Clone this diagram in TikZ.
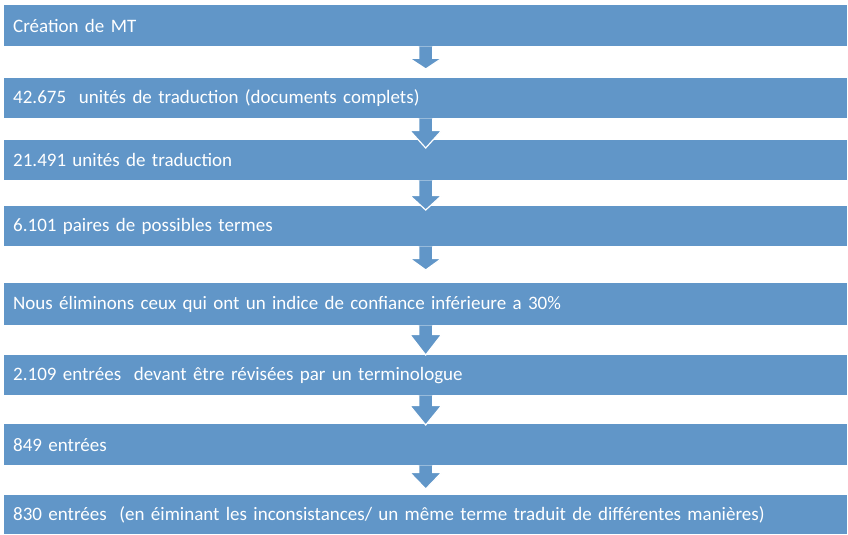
\documentclass[tikz,border=0pt]{standalone}
\usepackage{fontspec}
\setmainfont{Carlito}
\usetikzlibrary{calc}
\definecolor{boxblue}{RGB}{97,150,200}
\tikzset{
  stagebox/.style={fill=boxblue, draw=none, anchor=north west, minimum width=843pt,
    text width=825pt, align=left, inner xsep=9pt, inner ysep=0pt, text=white,
    font=\fontsize{19}{22}\selectfont},
  flowarr/.style={fill=boxblue, draw=white, line width=1.2pt, line join=miter}
}
% #1 source node, #2 target node, #3 head base below source, #4 tip offset from target north
\newcommand\flowarrow[4]{%
  \path[flowarr] ($(#1.south)+(-7,0)$) -- ($(#1.south)+(-7,#3)$) -- ++(-9,0)
    -- ($(#2.north)+(0,#4)$) -- ($(#1.south)+(16,#3)$) -- ++(-9,0)
    -- ($(#1.south)+(7,0)$);
}
\begin{document}
\begin{tikzpicture}[x=1pt,y=-1pt]
\useasboundingbox (0,0) rectangle (848,535);
\node[stagebox, minimum height=41pt] (b1) at (4,5) {Création de MT};
\node[stagebox, minimum height=40pt] (b2) at (4,78) {42.675\ \ unités de traduction (documents complets)};
\node[stagebox, minimum height=40pt] (b3) at (4,140) {21.491 unités de traduction};
\node[stagebox, minimum height=40pt] (b4) at (4,206) {6.101 paires de possibles termes};
\node[stagebox, minimum height=42pt] (b5) at (4,283) {Nous éliminons ceux qui ont un indice de confiance inférieure a 30\%};
\node[stagebox, minimum height=40pt] (b6) at (4,355) {2.109 entrées\ \ devant être révisées par un terminologue};
\node[stagebox, minimum height=41pt] (b7) at (4,424) {849 entrées};
\node[stagebox, minimum height=39pt] (b8) at (4,495) {830 entrées\ \ (en éiminant les inconsistances/ un même terme traduit de différentes manières)};
\flowarrow{b1}{b2}{12}{-9}
\flowarrow{b2}{b3}{12}{8}
\flowarrow{b3}{b4}{15}{4}
\flowarrow{b4}{b5}{12}{-13}
\flowarrow{b5}{b6}{9}{0}
\flowarrow{b6}{b7}{10}{1}
\flowarrow{b7}{b8}{7}{-6}
\end{tikzpicture}
\end{document}
